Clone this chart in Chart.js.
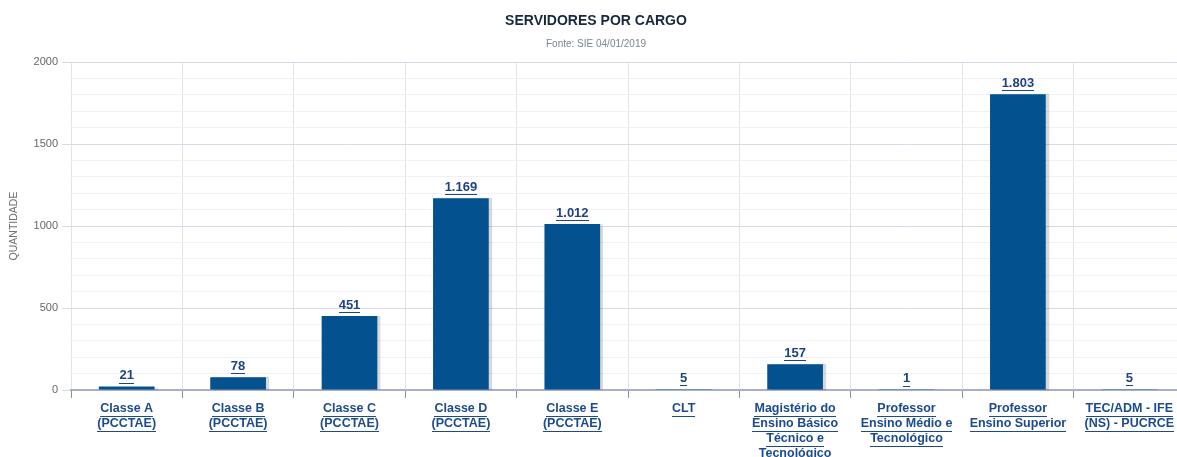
<!DOCTYPE html>
<html>
<head>
<meta charset="utf-8">
<script src="https://cdn.jsdelivr.net/npm/chart.js@4.4.0/dist/chart.umd.min.js"></script>
<style>
  html, body { margin: 0; padding: 0; background: #fff; overflow: hidden; }
  #wrap { width: 1177px; height: 457px; position: relative; overflow: hidden; }
  #c { position: absolute; left: 0; top: 0; }
</style>
</head>
<body>
<div id="wrap"><canvas id="c" width="1185" height="457"></canvas></div>
<script>
// Categorias (cargos) e quantidades de servidores
const categories = [
  ['Classe A', '(PCCTAE)'],
  ['Classe B', '(PCCTAE)'],
  ['Classe C', '(PCCTAE)'],
  ['Classe D', '(PCCTAE)'],
  ['Classe E', '(PCCTAE)'],
  ['CLT'],
  ['Magistério do', 'Ensino Básico', 'Técnico e', 'Tecnológico'],
  ['Professor', 'Ensino Médio e', 'Tecnológico'],
  ['Professor', 'Ensino Superior'],
  ['TEC/ADM - IFE', '(NS) - PUCRCE']
];
const quantities = [21, 78, 451, 1169, 1012, 5, 157, 1, 1803, 5];
const yTickLabels = [0, 500, 1000, 1500, 2000];

const titleText = 'SERVIDORES POR CARGO';
const subtitleText = 'Fonte: SIE 04/01/2019';
const yAxisTitle = 'QUANTIDADE';

const FONT = '"Liberation Sans", Arial, sans-serif';
const BAR_COLOR = '#03518f';
const LABEL_COLOR = '#1f4285';

function fmt(v) {
  return String(v).replace(/\B(?=(\d{3})+(?!\d))/g, '.');
}

function underlinedText(ctx, text, x, y, color) {
  ctx.fillStyle = color;
  ctx.fillText(text, x, y);
  const w = ctx.measureText(text).width;
  ctx.strokeStyle = color;
  ctx.lineWidth = 1;
  ctx.beginPath();
  ctx.moveTo(Math.round(x - w / 2), Math.round(y + 7) + 0.5);
  ctx.lineTo(Math.round(x + w / 2), Math.round(y + 7) + 0.5);
  ctx.stroke();
}

// Sombra suave à direita das barras
const barShadow = {
  id: 'barShadow',
  beforeDatasetDraw(chart) {
    const ctx = chart.ctx;
    ctx.save();
    ctx.shadowColor = 'rgba(0,0,0,0.15)';
    ctx.shadowOffsetX = 3;
    ctx.shadowOffsetY = 0;
    ctx.shadowBlur = 1;
  },
  afterDatasetDraw(chart) {
    chart.ctx.restore();
  }
};

// Títulos, rótulos de valores e rótulos das categorias
const decorations = {
  id: 'decorations',
  afterDraw(chart) {
    const ctx = chart.ctx;
    const area = chart.chartArea;
    const xs = chart.scales.x;
    const ys = chart.scales.y;
    ctx.save();
    ctx.textAlign = 'center';
    ctx.textBaseline = 'middle';

    // título
    ctx.font = 'bold 14px ' + FONT;
    ctx.fillStyle = '#17283f';
    ctx.fillText(titleText, 596, 21);
    ctx.font = '10px ' + FONT;
    ctx.fillStyle = '#7b8594';
    ctx.fillText(subtitleText, 596, 44);

    // título do eixo Y
    ctx.save();
    ctx.translate(14, (area.top + area.bottom) / 2);
    ctx.rotate(-Math.PI / 2);
    ctx.font = '10.5px ' + FONT;
    ctx.fillStyle = '#707070';
    ctx.fillText(yAxisTitle, 0, 0);
    ctx.restore();

    // valores sobre as barras
    ctx.font = 'bold 13px ' + FONT;
    quantities.forEach((v, i) => {
      const x = xs.getPixelForValue(i);
      const y = ys.getPixelForValue(v);
      underlinedText(ctx, fmt(v), x, y - 11, LABEL_COLOR);
    });

    // rótulos das categorias
    ctx.font = 'bold 12.5px ' + FONT;
    categories.forEach((lines, i) => {
      const x = xs.getPixelForValue(i);
      lines.forEach((t, k) => {
        underlinedText(ctx, t, x, area.bottom + 19 + k * 15, '#1c4a8e');
      });
    });
    ctx.restore();
  }
};

new Chart(document.getElementById('c'), {
  type: 'bar',
  data: {
    labels: categories.map(l => l.join(' ')),
    datasets: [{
      data: quantities,
      backgroundColor: BAR_COLOR,
      borderWidth: 0,
      barPercentage: 0.5,
      categoryPercentage: 1.0
    }]
  },
  options: {
    responsive: false,
    animation: false,
    layout: { padding: { top: 62, bottom: 59, left: 0, right: 0 } },
    plugins: {
      legend: { display: false },
      title: { display: false },
      tooltip: { enabled: false }
    },
    scales: {
      x: {
        offset: true,
        grid: {
          offset: true,
          color: '#e3e3e8',
          tickColor: '#8a8f9a',
          tickLength: 8,
          drawTicks: true
        },
        border: { color: '#a7b0c6', width: 2 },
        ticks: { display: false }
      },
      y: {
        min: 0,
        max: 2000,
        afterFit(scale) { scale.width = 71; },
        afterBuildTicks(scale) {
          const t = [];
          for (let v = 0; v <= 2000; v += 100) t.push({ value: v });
          scale.ticks = t;
        },
        grid: {
          color: ctx => (ctx.tick && ctx.tick.value % 500 === 0) ? '#d9d9ec' : '#f1f1f4',
          tickColor: ctx => (ctx.tick && ctx.tick.value % 500 === 0) ? '#d9d9ec' : 'rgba(0,0,0,0)',
          tickLength: 9
        },
        border: { display: false },
        ticks: {
          padding: 4,
          autoSkip: false,
          color: '#666',
          font: { family: FONT, size: 11 },
          callback: v => yTickLabels.includes(v) ? String(v) : ''
        }
      }
    }
  },
  plugins: [barShadow, decorations]
});
</script>
</body>
</html>
